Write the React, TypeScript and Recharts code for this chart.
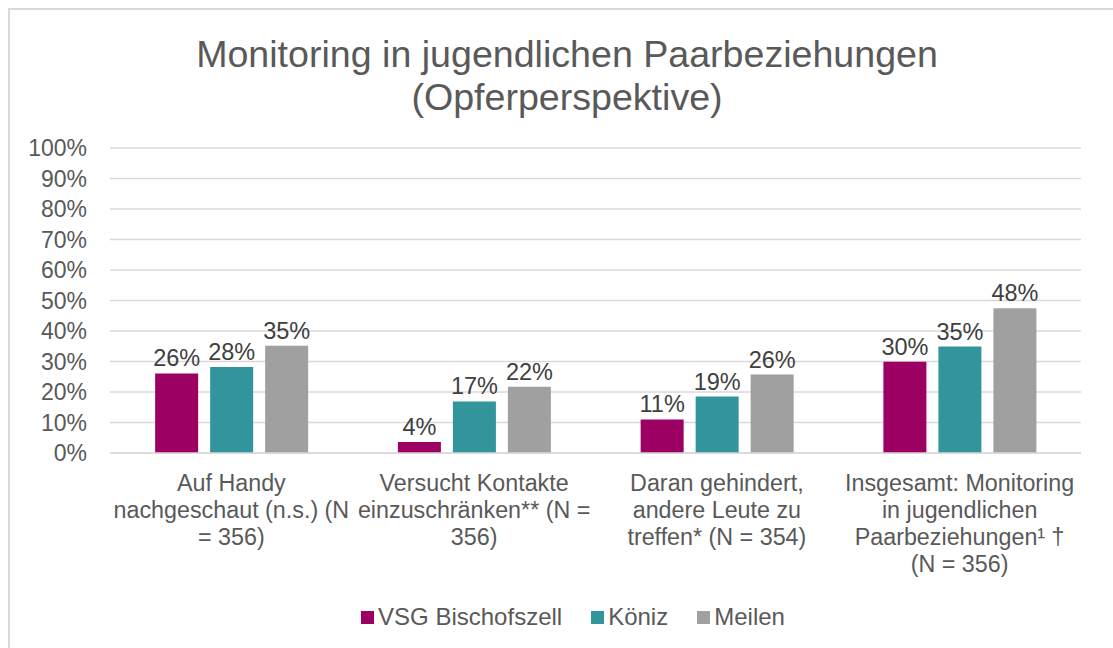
import React from 'react';
import { BarChart, Bar, XAxis, YAxis, CartesianGrid, LabelList } from 'recharts';

const categories = [
  ['Auf Handy', 'nachgeschaut (n.s.) (N', '= 356)'],
  ['Versucht Kontakte', 'einzuschränken** (N =', '356)'],
  ['Daran gehindert,', 'andere Leute zu', 'treffen* (N = 354)'],
  ['Insgesamt: Monitoring', 'in jugendlichen', 'Paarbeziehungen¹ †', '(N = 356)'],
];
const bischofszell = [26.1, 3.6, 11.0, 29.9];
const koeniz = [28.2, 16.9, 18.5, 34.9];
const meilen = [35.2, 21.7, 25.7, 47.5];
const yTicks = [0, 10, 20, 30, 40, 50, 60, 70, 80, 90, 100];

const series = [
  { key: 'bischofszell', name: 'VSG Bischofszell', color: '#9B0062' },
  { key: 'koeniz', name: 'Köniz', color: '#31959B' },
  { key: 'meilen', name: 'Meilen', color: '#A0A0A0' },
];

const data = categories.map((lines, i) => ({
  name: lines.join(' '),
  bischofszell: bischofszell[i],
  koeniz: koeniz[i],
  meilen: meilen[i],
}));

const FONT = '"Liberation Sans", Arial, sans-serif';
const TEXT = '#595959';

const CategoryTick = (props: any) => {
  const { x, y, payload } = props;
  const lines = categories[payload.index] || [String(payload.value)];
  return (
    <text x={x} y={y} textAnchor="middle" fill={TEXT} fontSize={23.3} fontFamily={FONT}>
      {lines.map((l, i) => (
        <tspan key={i} x={x} dy={i === 0 ? 38 : 27}>
          {l}
        </tspan>
      ))}
    </text>
  );
};

export default function App() {
  return (
    <div style={{ position: 'absolute', left: 0, top: 0, width: 1113, height: 648, background: '#fff', fontFamily: FONT }}>
      <div style={{ position: 'absolute', left: 8, top: 8, right: 0, bottom: 0, borderTop: '2px solid #d9d9d9', borderLeft: '2px solid #d9d9d9' }} />
      <div
        style={{
          position: 'absolute',
          left: 0,
          top: 33,
          width: 1134,
          textAlign: 'center',
          fontSize: 37.6,
          lineHeight: '43px',
          color: TEXT,
        }}
      >
        Monitoring in jugendlichen Paarbeziehungen
        <br />
        (Opferperspektive)
      </div>
      <BarChart
        width={1113}
        height={648}
        data={data}
        margin={{ top: 148, right: 32, bottom: 0, left: 10 }}
        barCategoryGap="18.6%"
        barGap={12}
        style={{ position: 'absolute', left: 0, top: 0 }}
      >
        <CartesianGrid vertical={false} stroke="#d9d9d9" strokeWidth={1.5} />
        <XAxis
          dataKey="name"
          height={195}
          tickLine={false}
          tickSize={0}
          tickMargin={0}
          axisLine={{ stroke: '#d9d9d9', strokeWidth: 1.5 }}
          tick={<CategoryTick />}
          interval={0}
        />
        <YAxis
          width={100}
          domain={[0, 100]}
          ticks={yTicks}
          tickFormatter={(v: number) => `${v}%`}
          axisLine={false}
          tickLine={false}
          tickSize={0}
          tickMargin={23}
          tick={{ fill: TEXT, fontSize: 23, fontFamily: FONT }}
          interval={0}
        />
        {series.map((s) => (
          <Bar key={s.key} dataKey={s.key} name={s.name} fill={s.color} isAnimationActive={false}>
            <LabelList
              dataKey={s.key}
              position="top"
              offset={7}
              formatter={(v: any) => `${Math.round(Number(v))}%`}
              style={{ fill: '#404040', fontSize: 23.5, fontFamily: FONT }}
            />
          </Bar>
        ))}
      </BarChart>
      <div
        style={{
          position: 'absolute',
          left: 0,
          top: 603,
          width: 1146,
          display: 'flex',
          justifyContent: 'center',
          alignItems: 'center',
          fontSize: 24,
          lineHeight: '28px',
          color: TEXT,
        }}
      >
        {series.map((s, i) => (
          <div key={s.key} style={{ display: 'flex', alignItems: 'center', marginRight: i < series.length - 1 ? 29 : 0 }}>
            <span style={{ display: 'inline-block', width: 13, height: 13, background: s.color, marginRight: 4 }} />
            <span>{s.name}</span>
          </div>
        ))}
      </div>
    </div>
  );
}
